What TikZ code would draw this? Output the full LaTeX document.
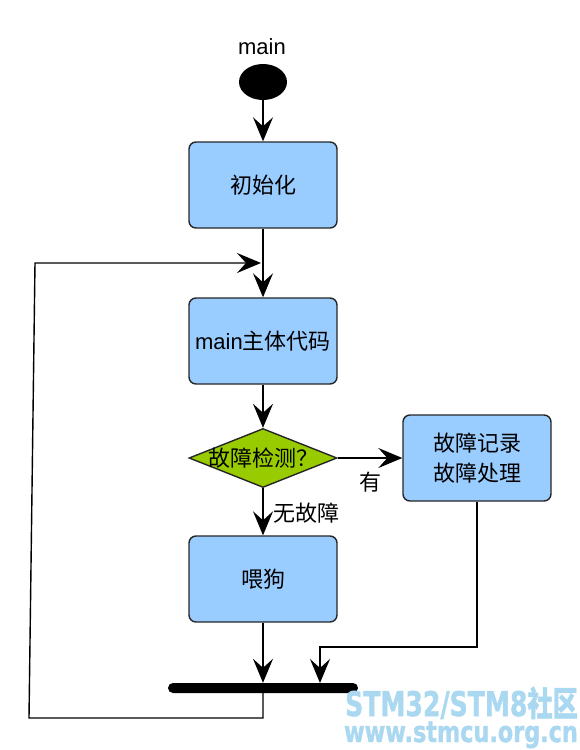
\documentclass[tikz,border=0pt]{standalone}
\usepackage{graphicx}
\usepackage{fontspec}
\setmainfont{Liberation Sans}
\newfontfamily\cjk{Noto Sans CJK SC}
\newfontfamily\cjkwm{Noto Sans CJK SC}[BoldFeatures={FakeBold=1.5}]
\newfontfamily\wmfont{DejaVu Sans}[BoldFeatures={FakeBold=1.5}]
\usetikzlibrary{arrows.meta,shapes.geometric}
\definecolor{boxblue}{RGB}{153,204,255}
\definecolor{dgreen}{RGB}{153,204,0}
\definecolor{wmblue}{RGB}{170,216,240}
\tikzset{
  box/.style={draw=black!85, line width=1.4pt, fill=boxblue, rounded corners=7pt,
    minimum width=148pt, minimum height=86pt, inner sep=0pt, align=center,
    font=\fontsize{22pt}{30pt}\selectfont\cjk},
  conn/.style={draw, line width=1.4pt, -{Stealth[length=24pt,width=20pt,inset=9pt]}},
  lbl/.style={font=\fontsize{22pt}{26pt}\selectfont\cjk, inner sep=0pt},
}
\begin{document}
\begin{tikzpicture}[x=1pt,y=-1pt]
\useasboundingbox (0,0) rectangle (580,750);
% start
\node[font=\fontsize{22pt}{26pt}\selectfont, inner sep=0pt] (mlbl) at (262,47) {main};
\node[ellipse, fill=black, minimum width=48pt, minimum height=36pt, inner sep=0pt] (start) at (263,82) {};
% boxes
\node[box] (b1) at (263,185) {初始化};
\node[box] (b2) at (263,341) {{\rmfamily main}主体代码};
\node[diamond, draw=black!85, line width=1.4pt, fill=dgreen, aspect=2.5, minimum width=148pt, minimum height=59pt, inner sep=0pt] (d) at (263,458) {};
\node[lbl] (dt) at (263,458) {故障检测？};
\node[box] (b3) at (477,458) {故障记录\\故障处理};
\node[box] (b4) at (263,579) {喂狗};
% bar
\node[fill=black, rounded corners=5pt, minimum width=190pt, minimum height=10pt, inner sep=0pt] (bar) at (263,688) {};
% coordinates
\coordinate (jt) at (261,263);
\coordinate (r1) at (477,647);
\coordinate (r2) at (320,647);
\coordinate (r3) at (320,683);
\coordinate (l1) at (263,718);
\coordinate (l2) at (29,718);
\coordinate (l3) at (35,263);
% connectors
\path[conn] (start) -- (b1);
\path[conn] (b1.south) -- (b2.north);
\path[conn] (b2.south) -- (d.north);
\path[conn] (d.east) -- (b3.west);
\node[lbl] (yes) at (370,482) {有};
\path[conn] (d.south) -- (b4.north);
\node[lbl] (no) at (306,513) {无故障};
\path[conn] (b4.south) -- (bar.north);
\path[conn] (b3.south) -- (r1) -- (r2) -- (r3);
\path[conn] (bar.south) -- (l1) -- (l2) -- (l3) -- (jt);
% watermark
\node[text=wmblue, anchor=base east, inner sep=0pt, font=\fontsize{34pt}{36pt}\selectfont\wmfont\bfseries] (wm1) at (578,716) {\scalebox{0.74}[1]{STM32/STM8{\cjkwm\bfseries 社区}}};
\node[text=wmblue, anchor=base east, inner sep=0pt, font=\fontsize{29pt}{32pt}\selectfont\wmfont\bfseries] (wm2) at (578,742) {\scalebox{0.77}[1]{www.stmcu.org.cn}};
\end{tikzpicture}
\end{document}
